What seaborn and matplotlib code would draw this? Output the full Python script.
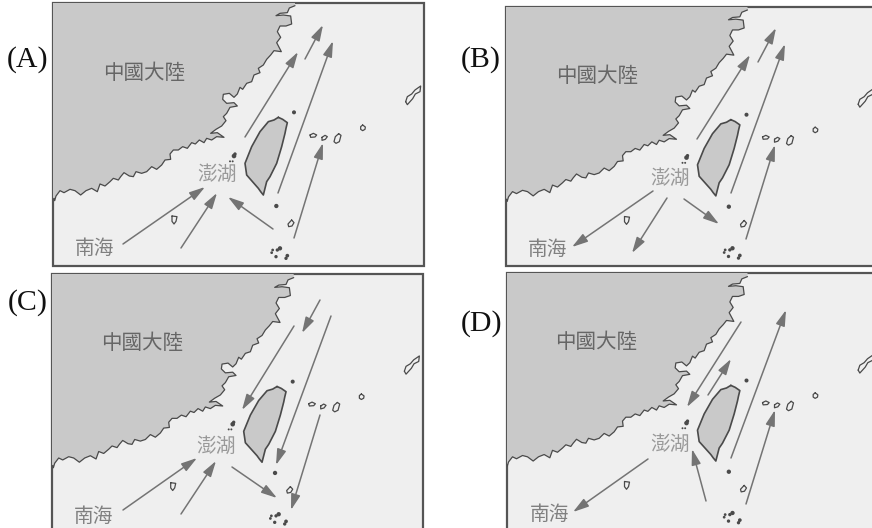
import matplotlib.pyplot as plt
import numpy as np
import seaborn as sns
from matplotlib.patches import Rectangle

# map outlines at 3x zoom
coast_x = [735, 718, 712, 690, 678, 700, 722, 725, 708, 690, 682, 692, 680, 694, 672, 662, 650, 640, 625, 630, 612, 605, 590,
           578, 570, 562, 552, 538, 520, 518, 530, 552, 562, 540, 530, 520, 528, 515, 498, 482, 502, 522, 500, 485, 470,
           462, 448, 436, 425, 412, 398, 385, 370, 360, 362, 345, 335, 320, 305, 290, 275, 258, 250, 238, 222, 212, 205,
           190, 180, 165, 150, 142, 125, 108, 92, 75, 60, 42, 30, 18, 14, 12]
coast_y = [17, 24, 38, 40, 47, 45, 48, 72, 78, 78, 95, 112, 128, 155, 152, 165, 178, 195, 205, 218, 225, 245, 250,
           268, 262, 282, 292, 280, 283, 298, 310, 308, 318, 322, 340, 350, 362, 378, 388, 400, 398, 412, 410, 420, 415,
           428, 420, 432, 428, 445, 440, 450, 450, 462, 478, 480, 495, 508, 500, 515, 520, 515, 530, 528, 518, 530, 540,
           535, 545, 558, 552, 575, 565, 572, 585, 572, 568, 578, 572, 588, 602, 595]
taiwan_x = [685, 698, 712, 708, 705, 695, 680, 660, 650, 640, 632, 625, 590, 585, 605, 630, 655, 672, 685]
taiwan_y = [352, 358, 368, 385, 400, 440, 490, 530, 545, 585, 575, 565, 525, 490, 440, 395, 365, 360, 352]
ryukyu_x = [1067, 1072, 1085, 1095, 1112, 1110, 1096, 1088, 1072, 1067]
ryukyu_y = [305, 290, 282, 270, 258, 275, 282, 296, 314, 305]
yonaguni_x = [780, 790, 800, 795, 782, 780]
yonaguni_y = [405, 400, 405, 411, 412, 405]
ishigaki_x = [816, 825, 832, 826, 816, 816]
ishigaki_y = [412, 406, 410, 418, 421, 412]
miyako_x = [866, 873, 868, 858, 852, 856, 866]
miyako_y = [401, 406, 425, 430, 425, 410, 401]
islet_x = [938, 946, 945, 938, 932, 932, 938]
islet_y = [375, 381, 388, 392, 388, 380, 375]
orchid_x = [725, 732, 726, 716, 714, 725]
orchid_y = [660, 668, 678, 680, 672, 660]
dongsha_x = [366, 381, 378, 372, 366, 366]
dongsha_y = [648, 650, 664, 672, 664, 648]
dot_x = [732, 679, 552, 555, 540, 548, 690, 682, 668, 665, 678, 712, 708]
dot_y = [337, 618, 468, 462, 484, 484, 745, 750, 750, 758, 770, 767, 775]
dot_size = [12, 14, 16, 8, 2, 2, 14, 8, 5, 5, 8, 10, 8]

# panel frames (left, top, right, bottom) and where the map sits in each
panel_names = ["(A)", "(B)", "(C)", "(D)"]
frame_left = [53, 506, 52, 507]
frame_top = [3, 7, 274, 273]
frame_right = [424, 885, 423, 885]
frame_bottom = [265.5, 266, 540, 540]
map_x0 = [50, 502.5, 48.7, 502.5]
map_y0 = [0, 4.4, 272.1, 271.1]
map_yscale = [1, 0.982, 0.975, 0.974]

# arrows: tail x, tail y, head x, head y
arrows_a = [(245, 137, 298, 52), (305, 59, 323, 25), (278, 193, 333, 41), (294, 238, 323, 143),
            (123, 244, 205, 187), (181, 248, 217, 193), (273, 229, 228, 197)]
arrows_b = [(697, 139, 750, 55), (758, 62, 776, 28), (731, 193, 785, 44), (746, 239, 775, 145),
            (653, 191, 572, 247), (667, 198, 632, 253), (684, 199, 719, 224)]
arrows_c = [(294, 326, 242, 410), (320, 300, 302, 333), (331, 316, 276, 465), (320, 415, 291, 510),
            (123, 510, 197, 458), (181, 514, 216, 461), (232, 467, 277, 498)]
arrows_d = [(741, 322, 687, 407), (708, 395, 731, 359), (731, 458, 786, 310), (746, 504, 775, 410),
            (648, 459, 573, 512), (706, 501, 692, 449)]
panel_arrows = [arrows_a, arrows_b, arrows_c, arrows_d]

# label positions
letter_x = [28, 481, 28, 482]
letter_y = [60, 60, 303, 324]
china_x = [144, 597, 142, 596]
china_y = [73, 76, 343, 342]
penghu_x = [217, 670, 216, 670]
penghu_y = [174, 178, 446, 444]
sea_x = [95, 548, 94, 550]
sea_y = [248, 249, 516, 514]

sns.set_style("white")
plt.rcParams['font.family'] = ['Noto Sans CJK TC', 'DejaVu Sans']

fig = plt.figure(figsize=(8.72, 5.28), dpi=100)
ax = fig.add_axes([0, 0, 1, 1])

LAND = "#c9c9c9"
LINE = "#4a4a4a"
ARROW = "#747474"

for i in range(4):
    frame = Rectangle((frame_left[i], frame_top[i]), frame_right[i] - frame_left[i],
                      frame_bottom[i] - frame_top[i], facecolor="#efefef", edgecolor="#555555", linewidth=1.6, zorder=1)
    ax.add_patch(frame)

    sx = lambda v: map_x0[i] + np.array(v) / 3
    sy = lambda v: map_y0[i] + map_yscale[i] * np.array(v) / 3

    land_x = np.concatenate([sx(coast_x), [frame_left[i], frame_left[i], sx(coast_x)[0]]])
    land_y = np.concatenate([sy(coast_y), [sy(coast_y)[-1], frame_top[i], frame_top[i]]])
    land = ax.fill(land_x, land_y, color=LAND, linewidth=0, zorder=2)[0]
    land.set_clip_path(frame)
    ax.fill(sx(taiwan_x), sy(taiwan_y), color=LAND, linewidth=0, zorder=2)

    sns.lineplot(x=sx(coast_x), y=sy(coast_y), sort=False, estimator=None, color=LINE, linewidth=0.9, ax=ax, zorder=3)
    ax.lines[-1].set_clip_path(frame)

    outlines = [(taiwan_x, taiwan_y, 1.2), (ryukyu_x, ryukyu_y, 0.9), (yonaguni_x, yonaguni_y, 0.9),
                (ishigaki_x, ishigaki_y, 0.9), (miyako_x, miyako_y, 0.9), (islet_x, islet_y, 0.9),
                (orchid_x, orchid_y, 0.9), (dongsha_x, dongsha_y, 0.9)]
    for ox, oy, lw in outlines:
        sns.lineplot(x=sx(ox), y=sy(oy), sort=False, estimator=None, color=LINE, linewidth=lw, ax=ax, zorder=3)
        ax.lines[-1].set_clip_path(frame)

    sns.scatterplot(x=sx(dot_x), y=sy(dot_y), size=dot_size, sizes=(2, 11), color=LINE, linewidth=0,
                    legend=False, ax=ax, zorder=3)

    for tail_x, tail_y, head_x, head_y in panel_arrows[i]:
        ax.annotate("", xy=(head_x, head_y), xytext=(tail_x, tail_y), zorder=4,
                    arrowprops=dict(arrowstyle="-|>,head_length=0.95,head_width=0.28", mutation_scale=10,
                                    color=ARROW, linewidth=1.1, shrinkA=0, shrinkB=0))

    ax.text(china_x[i], china_y[i], "中國大陸", fontsize=14.8, color="#666666", ha="center", va="center", zorder=5)
    ax.text(penghu_x[i], penghu_y[i], "澎湖", fontsize=14.2, color="#999999", ha="center", va="center", zorder=5)
    ax.text(sea_x[i], sea_y[i], "南海", fontsize=14.2, color="#808080", ha="center", va="center", zorder=5)
    ax.text(letter_x[i], letter_y[i], panel_names[i], fontsize=21.5, family="Liberation Serif", color="#111111",
            ha="center", va="center", zorder=5)

ax.set_xlim(0, 872)
ax.set_ylim(528, 0)
ax.axis("off")
fig.savefig("out.png", dpi=100, facecolor="white")
